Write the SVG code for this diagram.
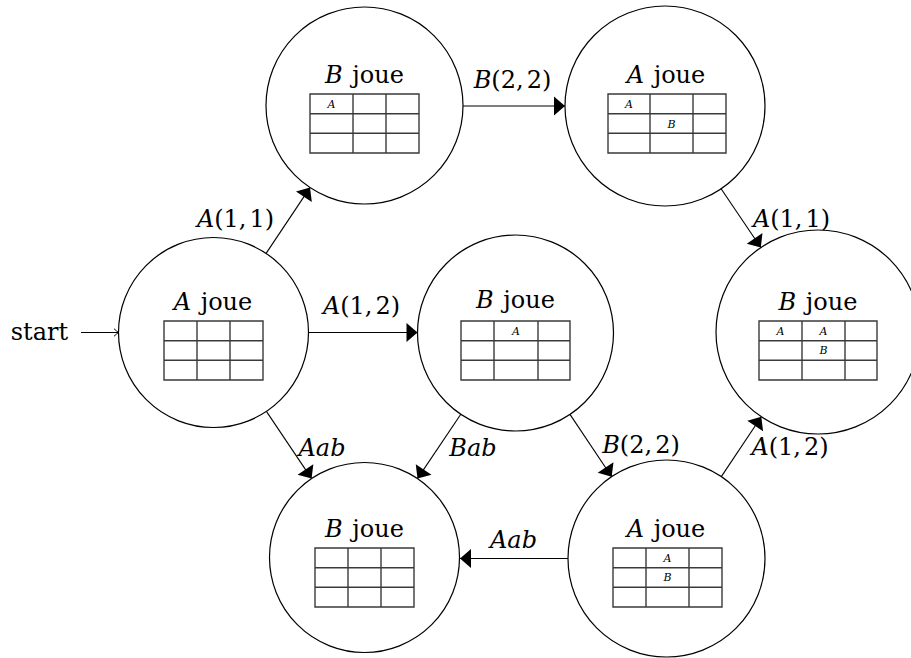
<svg xmlns="http://www.w3.org/2000/svg" width="911" height="658" viewBox="0 0 911 658" font-family="'DejaVu Serif', 'Liberation Serif', serif">
<style>
  .st { fill: #fff; stroke: #000; stroke-width: 1.2; }
  .tb { fill: none; stroke: #3a3a3a; stroke-width: 1.4; }
  .ttl { font-family: 'DejaVu Serif', 'Liberation Serif', serif; font-size: 24px; fill: #000; text-anchor: middle; word-spacing: 2px; }
  .lbl { font-family: 'DejaVu Serif', 'Liberation Serif', serif; font-size: 24px; fill: #000; text-anchor: middle; }
  .cell { font-family: 'DejaVu Serif', 'Liberation Serif', serif; font-size: 11px; font-style: italic; fill: #000; text-anchor: middle; }
  .it { font-style: italic; }
  .edge { fill: none; stroke: #000; stroke-width: 1.1; }
</style>
<defs>
  <marker id="tri" markerUnits="userSpaceOnUse" markerWidth="14" markerHeight="22" viewBox="-12 -11 14 22" refX="0" refY="0" orient="auto">
    <path d="M0,0 L-11,-9.5 L-11,9.5 Z" fill="#000"/>
  </marker>
  <marker id="open" markerUnits="userSpaceOnUse" markerWidth="8" markerHeight="10" viewBox="-6 -5 8 10" refX="0" refY="0" orient="auto">
    <path d="M-4.5,-3.8 Q-1.5,-1 0,0 Q-1.5,1 -4.5,3.8" fill="none" stroke="#000" stroke-width="1"/>
  </marker>
</defs>
<rect width="911" height="658" fill="#fff"/>

<g id="connectors">
  <line class="edge" x1="81" y1="332.5" x2="118.5" y2="332.5" marker-end="url(#open)"/>
  <line class="edge" x1="266.1" y1="253.4" x2="310" y2="187.6" marker-end="url(#tri)"/>
  <line class="edge" x1="308.5" y1="332.5" x2="417.5" y2="332.5" marker-end="url(#tri)"/>
  <line class="edge" x1="266.4" y1="411.4" x2="311.6" y2="478.6" marker-end="url(#tri)"/>
  <line class="edge" x1="460.8" y1="414.3" x2="417.5" y2="478.6" marker-end="url(#tri)"/>
  <line class="edge" x1="570" y1="414.4" x2="611.7" y2="476.7" marker-end="url(#tri)"/>
  <line class="edge" x1="721.3" y1="476.6" x2="761.3" y2="416.8" marker-end="url(#tri)"/>
  <line class="edge" x1="721.1" y1="188.8" x2="760.8" y2="247.5" marker-end="url(#tri)"/>
  <line class="edge" x1="463" y1="106" x2="565" y2="106" marker-end="url(#tri)"/>
  <line class="edge" x1="568" y1="558.5" x2="460" y2="558.5" marker-end="url(#tri)"/>

  <text class="lbl" x="39.5" y="340">start</text>
  <text class="lbl" x="235.5" y="227"><tspan class="it">A</tspan>(1,<tspan dx="3">1)</tspan></text>
  <text class="lbl" x="361.5" y="314"><tspan class="it">A</tspan>(1,<tspan dx="3">2)</tspan></text>
  <text class="lbl" x="512.5" y="88"><tspan class="it">B</tspan>(2,<tspan dx="3">2)</tspan></text>
  <text class="lbl" x="791.5" y="227"><tspan class="it">A</tspan>(1,<tspan dx="3">1)</tspan></text>
  <text class="lbl" x="641" y="453"><tspan class="it">B</tspan>(2,<tspan dx="3">2)</tspan></text>
  <text class="lbl" x="790" y="455"><tspan class="it">A</tspan>(1,<tspan dx="3">2)</tspan></text>
  <text class="lbl it" x="322" y="456">Aab</text>
  <text class="lbl it" x="473" y="456">Bab</text>
  <text class="lbl it" x="513.5" y="548">Aab</text>
</g>

<g id="n1">
  <circle class="st" cx="213.5" cy="332.5" r="95"/>
  <text class="ttl" x="213" y="310"><tspan class="it">A</tspan> joue</text>
  <path class="tb" d="M164,321H263V380H164Z M197,321V380 M230,321V380 M164,340.7H263 M164,360.3H263"/>
</g>

<g id="n2">
  <circle class="st" cx="364.5" cy="105.5" r="98.5"/>
  <text class="ttl" x="364.5" y="83"><tspan class="it">B</tspan> joue</text>
  <path class="tb" d="M310,94H419V153H310Z M353,94V153 M386,94V153 M310,113.7H419 M310,133.3H419"/>
  <text class="cell" x="331.5" y="107.5">A</text>
</g>

<g id="n3">
  <circle class="st" cx="665" cy="106" r="100"/>
  <text class="ttl" x="666" y="83"><tspan class="it">A</tspan> joue</text>
  <path class="tb" d="M608,94H726V153H608Z M650,94V153 M693,94V153 M608,113.7H726 M608,133.3H726"/>
  <text class="cell" x="629" y="107.5">A</text>
  <text class="cell" x="671.5" y="127.5">B</text>
</g>

<g id="n4">
  <circle class="st" cx="818" cy="332" r="102"/>
  <text class="ttl" x="818" y="310"><tspan class="it">B</tspan> joue</text>
  <path class="tb" d="M759,321H877V380H759Z M802,321V380 M845,321V380 M759,340.7H877 M759,360.3H877"/>
  <text class="cell" x="780.5" y="334.5">A</text>
  <text class="cell" x="823.5" y="334.5">A</text>
  <text class="cell" x="823.5" y="354">B</text>
</g>

<g id="n5">
  <circle class="st" cx="515.5" cy="333" r="98"/>
  <text class="ttl" x="515.5" y="308"><tspan class="it">B</tspan> joue</text>
  <path class="tb" d="M461,321H570V380H461Z M494,321V380 M538,321V380 M461,340.7H570 M461,360.3H570"/>
  <text class="cell" x="516" y="334.5">A</text>
</g>

<g id="n6">
  <circle class="st" cx="364.5" cy="557.5" r="95"/>
  <text class="ttl" x="364.5" y="537"><tspan class="it">B</tspan> joue</text>
  <path class="tb" d="M315,548H414V607H315Z M348,548V607 M381,548V607 M315,567.7H414 M315,587.3H414"/>
</g>

<g id="n7">
  <circle class="st" cx="666.5" cy="558.5" r="98.5"/>
  <text class="ttl" x="666" y="537"><tspan class="it">A</tspan> joue</text>
  <path class="tb" d="M613,548H722V607H613Z M646,548V607 M689,548V607 M613,567.7H722 M613,587.3H722"/>
  <text class="cell" x="667.5" y="561.5">A</text>
  <text class="cell" x="667.5" y="581">B</text>
</g>
</svg>
